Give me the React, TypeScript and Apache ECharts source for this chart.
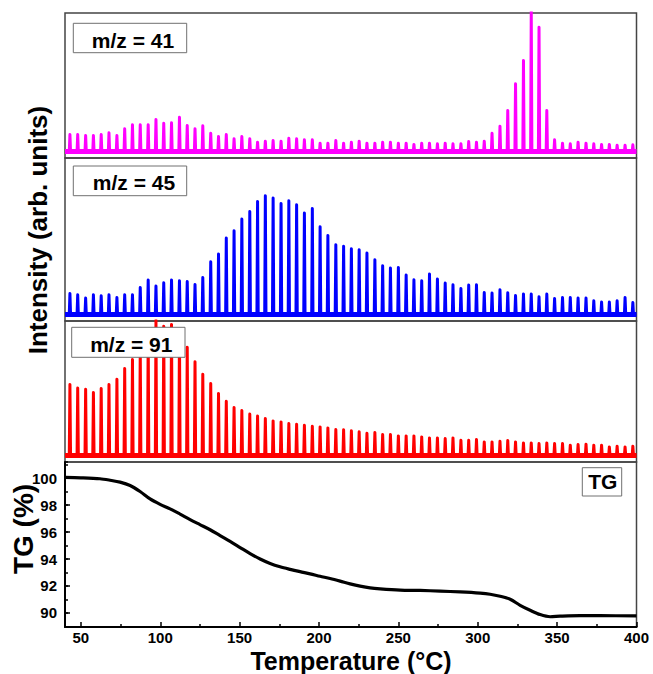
import React, { useEffect, useRef } from "react";
import * as echarts from "echarts";

// Temperatures (°C) of the MS scans (shared by all three m/z channels)
const scanTemps = [
  43.1, 48.0, 53.0, 57.9, 62.8, 67.7, 72.7, 77.6, 82.5, 87.4,
  92.4, 97.3, 102.2, 107.1, 112.1, 117.0, 121.9, 126.8, 131.8, 136.7,
  141.6, 146.5, 151.4, 156.4, 161.3, 166.2, 171.1, 176.1, 181.0, 185.9,
  190.8, 195.8, 200.7, 205.6, 210.6, 215.5, 220.4, 225.3, 230.2, 235.2,
  240.1, 245.0, 250.0, 254.9, 259.8, 264.7, 269.6, 274.6, 279.5, 284.4,
  289.4, 294.3, 299.2, 304.1, 309.0, 314.0, 318.9, 323.8, 328.8, 333.7,
  338.6, 343.5, 348.4, 353.4, 358.3, 363.2, 368.2, 373.1, 378.0, 382.9,
  387.8, 392.8, 397.7,
];

// Peak intensities (arb. units)
const mz41 = [
  17, 17, 16, 16, 17, 18.7, 16, 22.7, 26.7, 26.7,
  26.7, 32, 28.3, 28.7, 34.3, 26, 22.7, 25.7, 18.3, 15,
  17, 12.7, 15, 12.7, 9.3, 10.3, 11, 10.3, 13.3, 12.7,
  11.7, 11.7, 8.3, 8.3, 11, 8.3, 9.3, 10.3, 8.3, 8.3,
  9.3, 9.3, 8.3, 8.3, 7, 8.3, 8.3, 7.7, 8.3, 7.7,
  7.7, 10, 9.3, 10.3, 18.3, 25.3, 41, 67.7, 91, 142,
  124.3, 41, 11.7, 8.3, 7.7, 9.3, 8.3, 7.7, 7, 7,
  6.3, 6.3, 6.7,
];

const mz45 = [
  20.3, 19, 15.7, 19, 18, 19, 16.3, 19, 19, 26.3,
  33.7, 27.7, 31, 33.7, 33, 32.3, 29.3, 36.3, 52, 59.7,
  75.7, 83, 94.7, 102.3, 112.3, 118, 115.7, 110.3, 113, 109,
  100.7, 105.3, 87, 78.3, 69, 67.5, 65, 64, 60.7, 54,
  48, 45.7, 46.3, 38.7, 34, 33, 39.7, 34.7, 30.7, 29,
  25.3, 28.7, 29, 21.3, 20.7, 24, 21, 18.3, 19.7, 19.7,
  17, 19.7, 15.3, 16.3, 16.3, 15.7, 15.7, 13, 11.7, 11.7,
  13, 16.3, 11.3,
];

const mz91 = [
  70.7, 67.3, 66, 62.7, 66.7, 70.7, 76, 86.7, 95.7, 106,
  118, 135, 129, 130.7, 122, 108, 93.5, 81, 71.7, 61.7,
  54, 47.7, 44.7, 41.3, 39.3, 36.7, 34.3, 33.3, 31.7, 31,
  30, 29, 28.3, 27.3, 25.7, 25.5, 24.5, 23.5, 22, 22.7,
  20.7, 20.7, 19.3, 19.3, 19.3, 18.3, 17.3, 17.3, 16.7, 17.3,
  15, 15, 15.7, 13.3, 13.3, 14, 14.7, 13.3, 12.3, 12.3,
  11.7, 12.3, 11.7, 11.7, 10, 10.7, 11, 10, 10, 8.3,
  9, 8.3, 9,
];

// TG curve
const tgTemps = [
  40, 50, 62, 68.4, 74.7, 81, 87.3, 93.6, 99.9, 106.2,
  112.5, 118.8, 125, 131.4, 137.7, 144, 150.3, 156.6, 162.9, 169.2,
  175.5, 181.8, 188.1, 194.4, 200.7, 207, 213.3, 219.6, 225.9, 232.2,
  238.5, 251.1, 263.7, 276.3, 288.9, 301.5, 307.8, 314.1, 320.4, 326.7,
  333, 339.3, 345.6, 351.9, 364.5, 377.1, 400,
];
const tgValues = [
  100.05, 100.02, 99.95, 99.84, 99.7, 99.45, 99.0, 98.45, 98.05, 97.72,
  97.33, 96.92, 96.55, 96.17, 95.73, 95.3, 94.85, 94.4, 94.0, 93.67,
  93.42, 93.23, 93.06, 92.9, 92.72, 92.55, 92.36, 92.16, 91.99, 91.86,
  91.79, 91.7, 91.67, 91.62, 91.56, 91.47, 91.39, 91.24, 91.02, 90.57,
  90.2, 89.88, 89.72, 89.76, 89.8, 89.8, 89.78,
];

const channelLabels = ["m/z = 41", "m/z = 45", "m/z = 91"];
const channelColors = ["#ff00ff", "#0000ff", "#ff0000"];

const FONT = "'Liberation Sans', Arial, Helvetica, sans-serif";

function spikes(heights: number[]) {
  const out: number[][] = [];
  scanTemps.forEach((t, i) => {
    out.push([t - 0.4, 0], [t, heights[i]], [t + 0.4, 0]);
  });
  return out;
}

function txt(text: string, x: number, y: number, size: number, rot = 0, z = 20) {
  return {
    type: "text",
    x,
    y,
    rotation: rot,
    z,
    style: {
      text,
      font: `bold ${size}px ${FONT}`,
      fill: "#000",
      align: "center",
      verticalAlign: "middle",
      textAlign: "center",
      textVerticalAlign: "middle",
    },
  };
}

function box(x: number, y: number, w: number, h: number) {
  return {
    type: "rect",
    z: 15,
    shape: { x, y, width: w, height: h },
    style: { fill: "#fff", stroke: "#707070", lineWidth: 1 },
  };
}

export default function App() {
  const ref = useRef<HTMLDivElement>(null);
  useEffect(() => {
    if (!ref.current) return;
    const chart = echarts.init(ref.current, undefined, { renderer: "svg" });
    const gridBase = {
      left: 65,
      width: 571.5,
      show: true,
      borderColor: "#444",
      borderWidth: 1.5,
      backgroundColor: "transparent",
      containLabel: false,
    };
    const msData = [mz41, mz45, mz91];
    const msRanges = [
      [-6.5, 138.5],
      [-7.2, 155.8],
      [-6.8, 134.2],
    ];
    const option: any = {
      animation: false,
      backgroundColor: "#fff",
      grid: [
        { ...gridBase, top: 13, height: 145 },
        { ...gridBase, top: 158, height: 163 },
        { ...gridBase, top: 321, height: 141 },
        { ...gridBase, top: 462, height: 165 },
      ],
      xAxis: [
        { type: "value", gridIndex: 0, min: 40, max: 400, show: false },
        { type: "value", gridIndex: 1, min: 40, max: 400, show: false },
        { type: "value", gridIndex: 2, min: 40, max: 400, show: false },
        {
          type: "value",
          gridIndex: 3,
          min: 40,
          max: 400,
          splitNumber: 7,
          axisLine: { show: true, lineStyle: { color: "#000", width: 2 } },
          axisTick: { show: true, inside: true, length: 5, lineStyle: { color: "#000", width: 1.5 } },
          minorTick: { show: true, splitNumber: 2, length: 3, lineStyle: { color: "#000", width: 1.5 } },
          splitLine: { show: false },
          minorSplitLine: { show: false },
          axisLabel: {
            showMinLabel: false,
            margin: 2.5,
            color: "#000",
            fontSize: 15,
            fontWeight: "bold",
            fontFamily: FONT,
          },
        },
      ],
      yAxis: [
        ...msRanges.map((r, i) => ({
          type: "value",
          gridIndex: i,
          min: r[0],
          max: r[1],
          show: false,
        })),
        {
          type: "value",
          gridIndex: 3,
          position: "left",
          min: 88.96,
          max: 101.19,
          splitNumber: 6,
          axisLine: { show: true, lineStyle: { color: "#000", width: 2 } },
          axisTick: { show: true, inside: true, length: 5, lineStyle: { color: "#000", width: 1.5 } },
          splitLine: { show: false },
          axisLabel: {
            showMinLabel: false,
            showMaxLabel: false,
            margin: 8,
            color: "#000",
            fontSize: 15,
            fontWeight: "bold",
            fontFamily: FONT,
          },
        },
        {
          type: "value",
          gridIndex: 3,
          position: "left",
          min: 88.96,
          max: 101.19,
          splitNumber: 12,
          axisLine: { show: false },
          axisTick: { show: true, inside: true, length: 3, lineStyle: { color: "#000", width: 1.5 } },
          splitLine: { show: false },
          axisLabel: { show: false },
        },
      ],
      series: [
        ...msData.map((d, i) => ({
          type: "line",
          xAxisIndex: i,
          yAxisIndex: i,
          data: spikes(d),
          symbol: "none",
          showSymbol: false,
          z: 3,
          lineStyle: { color: channelColors[i], width: 3, join: "round", cap: "round" },
          markLine: {
            silent: true,
            symbol: "none",
            label: { show: false },
            data: [{ yAxis: 0 }],
            lineStyle: { color: channelColors[i], width: 5, type: "solid" },
          },
        })),
        {
          type: "line",
          xAxisIndex: 3,
          yAxisIndex: 3,
          data: tgTemps.map((t, i) => [t, tgValues[i]]),
          symbol: "none",
          showSymbol: false,
          smooth: 0.3,
          z: 3,
          lineStyle: { color: "#000", width: 3.2 },
        },
      ],
      graphic: [
        txt("Intensity (arb. units)", 37.5, 230, 26, Math.PI / 2),
        txt("TG (%)", 23.5, 529, 28, Math.PI / 2),
        txt("Temperature (°C)", 351, 660.6, 25),
        box(73.3, 23.3, 113.4, 29.4),
        txt(channelLabels[0], 133, 40, 21),
        box(73.3, 166, 113.4, 29.7),
        txt(channelLabels[1], 134, 182.5, 21),
        box(71.7, 327.3, 113.3, 30),
        txt(channelLabels[2], 131.3, 344, 21),
        box(582.3, 467.7, 39.4, 28.3),
        txt("TG", 602.8, 481.7, 21),
      ],
    };
    chart.setOption(option);
    return () => chart.dispose();
  }, []);
  return (
    <div
      ref={ref}
      style={{ position: "fixed", left: 0, top: 0, width: 653, height: 674, background: "#fff" }}
    />
  );
}
